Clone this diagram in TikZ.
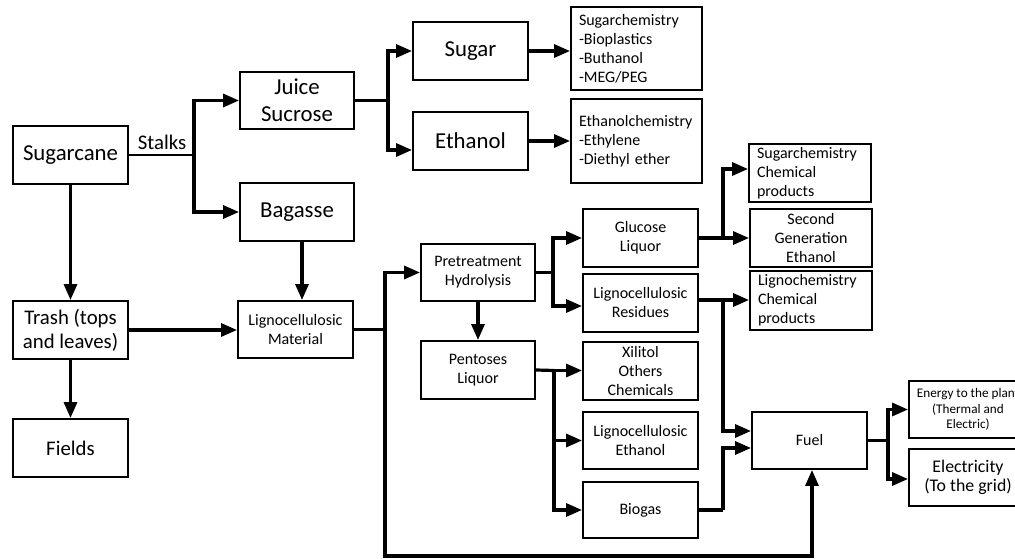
\documentclass[tikz,border=0pt]{standalone}
\usepackage{fontspec}
\setmainfont{Carlito}
\usetikzlibrary{arrows.meta}
\tikzset{
  box/.style={draw, line width=1.9pt, inner sep=0pt, align=center},
  lbox/.style={draw, line width=1.9pt, inner ysep=0pt, inner xsep=8pt, align=left},
  fbig/.style={font=\fontsize{22.8}{27}\selectfont},
  fmid/.style={font=\fontsize{20.8}{24}\selectfont},
  fsm/.style={font=\fontsize{16}{19}\selectfont},
  ln/.style={line width=3.2pt},
  arr/.style={line width=3.2pt, -{Triangle[length=16pt,width=13pt]}},
}
\begin{document}
\begin{tikzpicture}[x=1pt,y=-1pt]
\useasboundingbox (0,0) rectangle (1015,559);
% first column
\node[box,fbig,minimum width=115pt,minimum height=58pt] (sugarcane) at (70.5,155) {Sugarcane};
\node[box,fmid,minimum width=115pt,minimum height=58pt] (trash) at (70.5,330) {Trash (tops\\and leaves)};
\node[box,fmid,minimum width=115pt,minimum height=58pt] (fields) at (70.5,448) {Fields};
% second column
\node[box,fbig,minimum width=114pt,minimum height=57pt] (juice) at (297,100.5) {Juice\\Sucrose};
\node[box,fbig,minimum width=114pt,minimum height=58pt] (bagasse) at (297,212) {Bagasse};
\node[box,fsm,minimum width=115pt,minimum height=57pt] (lm) at (295.5,329.5) {Lignocellulosic\\Material};
% third column
\node[box,fbig,minimum width=115pt,minimum height=58pt] (sugar) at (470.5,51) {Sugar};
\node[box,fbig,minimum width=115pt,minimum height=58pt] (ethanol) at (470.5,141) {Ethanol};
\node[box,fsm,minimum width=114pt,minimum height=57pt] (pretreat) at (478,272.5) {Pretreatment\\Hydrolysis};
\node[box,fsm,minimum width=114pt,minimum height=58pt] (pentoses) at (478,370) {Pentoses\\Liquor};
% fourth column
\node[lbox,fsm,text width=115pt,minimum height=83pt] (sugchem) at (636.5,48.5) {Sugarchemistry\\-Bioplastics\\-Buthanol\\-MEG/PEG};
\node[lbox,fsm,text width=115pt,minimum height=84pt] (ethchem) at (636.5,141) {Ethanolchemistry\\-Ethylene\\-Diethyl ether};
\node[box,fsm,minimum width=115pt,minimum height=58pt] (glucose) at (640.5,238) {Glucose\\Liquor};
\node[box,fsm,minimum width=115pt,minimum height=58pt] (resid) at (640.5,303) {Lignocellulosic\\Residues};
\node[box,fsm,minimum width=115pt,minimum height=58pt] (xilitol) at (640.5,371) {Xilitol\\Others\\Chemicals};
\node[box,fsm,minimum width=115pt,minimum height=57pt] (leth) at (640.5,440.5) {Lignocellulosic\\Ethanol};
\node[box,fsm,minimum width=115pt,minimum height=56pt] (biogas) at (640.5,510) {Biogas};
% fifth column
\node[lbox,fsm,text width=106pt,minimum height=58pt] (sccp) at (810,173) {Sugarchemistry\\Chemical\\products};
\node[box,fsm,minimum width=122pt,minimum height=58pt] (sge) at (811,238) {Second\\Generation\\Ethanol};
\node[lbox,fsm,text width=106pt,minimum height=59pt] (lcp) at (811,300.5) {Lignochemistry\\Chemical\\products};
\node[box,fsm,minimum width=115pt,minimum height=57pt] (fuel) at (809.5,440.5) {Fuel};
% last column
\node[box,font=\fontsize{13.2}{15.7}\selectfont,minimum width=118pt,minimum height=57pt] (energy) at (968,409.5) {Energy to the plant\\(Thermal and\\Electric)};
\node[box,font=\fontsize{17.8}{19}\selectfont,minimum width=118pt,minimum height=57pt] (elec) at (968,477.5) {Electricity\\(To the grid)};
% label
\node[fmid,inner sep=0pt] (stalks) at (162,142) {Stalks};
% branch points
\coordinate (b1) at (194,155);
\coordinate (b2) at (388,100.5);
\coordinate (b3) at (385,329.5);
\coordinate (b4) at (385,556);
\coordinate (b5) at (553,272.5);
\coordinate (b6) at (723,238);
\coordinate (b7) at (723,300);
\coordinate (b8) at (554,370.5);
\coordinate (b9) at (723,510);
\coordinate (b10) at (888,440.5);
% connectors
\draw[line width=2.4pt] (sugarcane.east) -- (b1);
\draw[arr] (b1) |- (juice.west);
\draw[arr] (b1) |- (bagasse.west);
\draw[ln] (juice.east) -- (b2);
\draw[arr] (b2) |- (sugar.west);
\draw[arr] (b2) |- ([yshift=-9pt]ethanol.west);
\draw[arr] (sugar.east) -- (sugar.east -| sugchem.west);
\draw[arr] (ethanol.east) -- (ethanol.east -| ethchem.west);
\draw[arr] (sugarcane.south) -- (trash.north);
\draw[arr] (trash.south) -- (fields.north);
\draw[arr] (trash.east) -- (trash.east -| lm.west);
\draw[arr] ([xshift=5pt]bagasse.south) -- ([xshift=5pt]bagasse.south |- lm.north);
\draw[ln] (lm.east) -- (b3);
\draw[arr] (b3) |- (pretreat.west);
\draw[arr] (b3) -- (b4) -| ([xshift=2.5pt]fuel.south);
\draw[ln] (pretreat.east) -- (b5);
\draw[arr] (b5) |- (glucose.west);
\draw[arr] (b5) |- ([yshift=-3pt]resid.west);
\draw[arr] (pretreat.south) -- (pentoses.north);
\draw[ln] (glucose.east) -- (b6);
\draw[arr] (b6) |- ([yshift=4pt]sccp.west);
\draw[arr] (b6) -- (b6 -| sge.west);
\draw[ln] ([yshift=3pt]resid.east) -- (b7);
\draw[arr] (b7) -- (b7 -| lcp.west);
\draw[arr] (b7) |- ([yshift=9.5pt]fuel.west);
\draw[ln] (pentoses.east) -- (b8);
\draw[arr] (b8) -- (b8 -| xilitol.west);
\draw[arr] (b8) |- (leth.west);
\draw[arr] (b8) |- (biogas.west);
\draw[ln] (biogas.east) -- (b9);
\draw[arr] (b9) |- ([yshift=-7.5pt]fuel.west);
\draw[ln] (fuel.east) -- (b10);
\draw[arr] (b10) |- (energy.west);
\draw[arr] (b10) |- ([yshift=-1.5pt]elec.west);
\end{tikzpicture}
\end{document}
